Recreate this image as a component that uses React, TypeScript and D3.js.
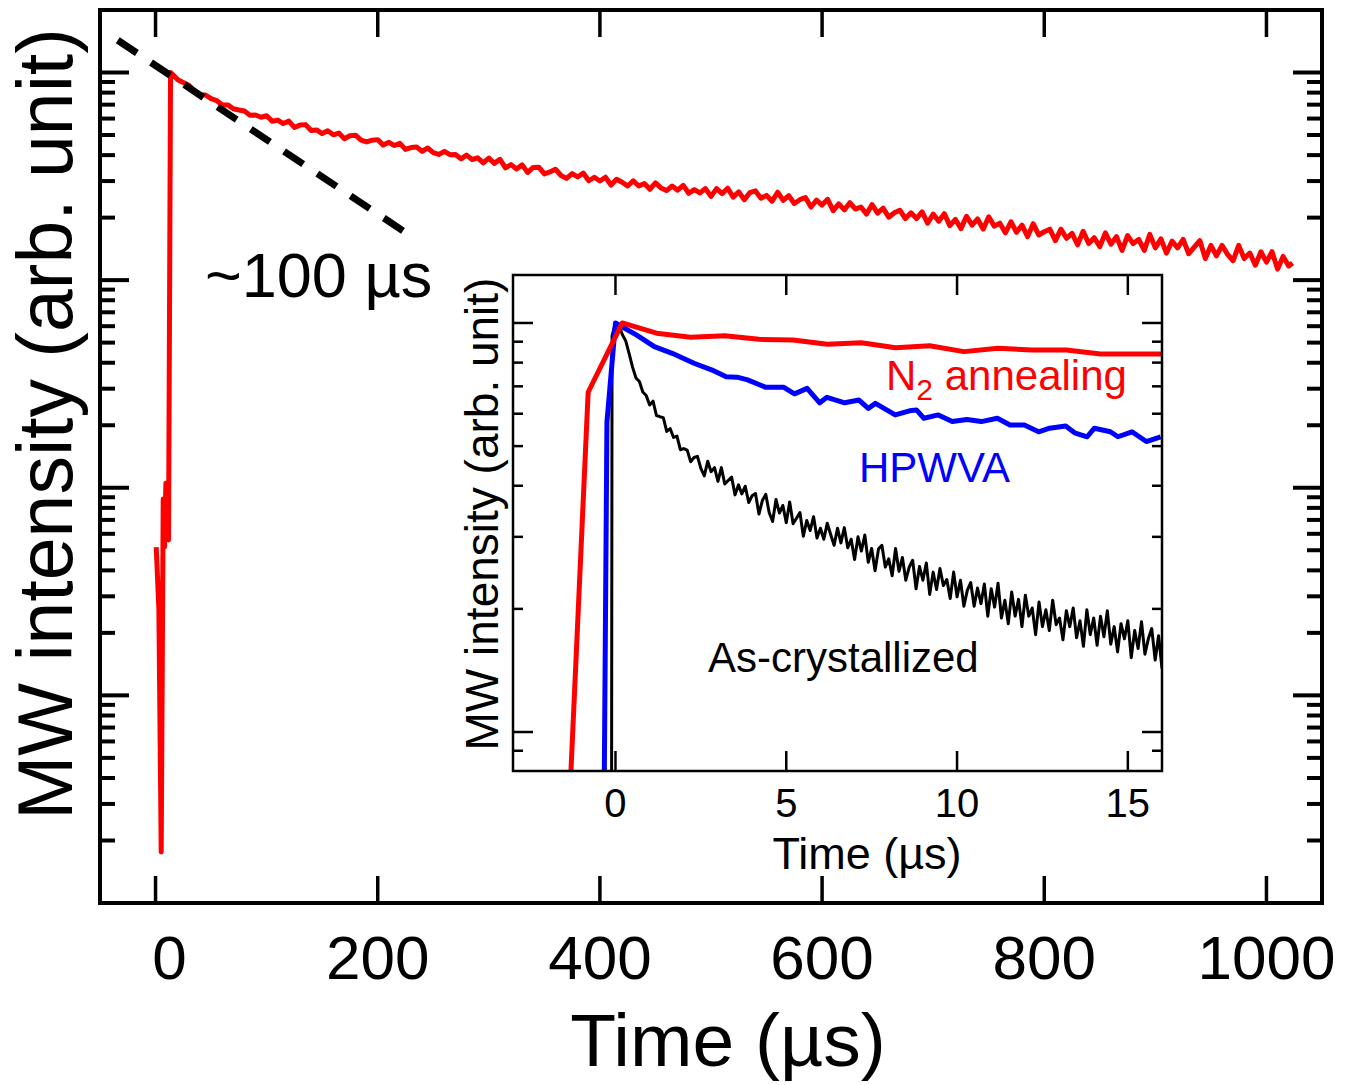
import React from 'react';
import * as d3 from 'd3';

// ---- main trace (N2 annealed sample, long time window) ----
const mainTime = [
  0.6, 3, 5.1, 6.9, 8.1, 9.3, 11.1, 11.7, 13.5,
  15, 20, 25, 30, 35, 40, 45, 50, 55, 60,
  65, 70, 75, 80, 85, 90, 95, 100, 105, 110,
  115, 120, 125, 130, 135, 140, 145, 150, 155, 160,
  165, 170, 175, 180, 185, 190, 195, 200, 205, 210,
  215, 220, 225, 230, 235, 240, 245, 250, 255, 260,
  265, 270, 275, 280, 285, 290, 295, 300, 305, 310,
  315, 320, 325, 330, 335, 340, 345, 350, 355, 360,
  365, 370, 375, 380, 385, 390, 395, 400, 405, 410,
  415, 420, 425, 430, 435, 440, 445, 450, 455, 460,
  465, 470, 475, 480, 485, 490, 495, 500, 505, 510,
  515, 520, 525, 530, 535, 540, 545, 550, 555, 560,
  565, 570, 575, 580, 585, 590, 595, 600, 605, 610,
  615, 620, 625, 630, 635, 640, 645, 650, 655, 660,
  665, 670, 675, 680, 685, 690, 695, 700, 705, 710,
  715, 720, 725, 730, 735, 740, 745, 750, 755, 760,
  765, 770, 775, 780, 785, 790, 795, 800, 805, 810,
  815, 820, 825, 830, 835, 840, 845, 850, 855, 860,
  865, 870, 875, 880, 885, 890, 895, 900, 905, 910,
  915, 920, 925, 930, 935, 940, 945, 950, 955, 960,
  965, 970, 975, 980, 985, 990, 995, 1000, 1005, 1010,
  1015, 1020, 1023.5,
];
const mainSignal = [
  0.00518, 0.0026, 0.000176, 0.00883, 0.00518, 0.0105, 0.0104, 0.0056, 1.0,
  0.985, 0.922, 0.894, 0.868, 0.815, 0.781, 0.779, 0.748, 0.733, 0.697,
  0.698, 0.669, 0.66, 0.652, 0.623, 0.624, 0.609, 0.619, 0.582, 0.59,
  0.568, 0.583, 0.544, 0.558, 0.561, 0.526, 0.529, 0.508, 0.524, 0.501,
  0.511, 0.48, 0.496, 0.499, 0.472, 0.463, 0.472, 0.475, 0.447, 0.461,
  0.445, 0.456, 0.426, 0.435, 0.438, 0.417, 0.433, 0.411, 0.403, 0.417,
  0.402, 0.403, 0.384, 0.4, 0.381, 0.388, 0.367, 0.387, 0.365, 0.382,
  0.347, 0.36, 0.343, 0.359, 0.33, 0.349, 0.35, 0.325, 0.332, 0.342,
  0.319, 0.309, 0.326, 0.314, 0.328, 0.301, 0.313, 0.3, 0.313, 0.287,
  0.306, 0.296, 0.284, 0.301, 0.284, 0.292, 0.274, 0.294, 0.278, 0.27,
  0.284, 0.271, 0.286, 0.262, 0.273, 0.263, 0.276, 0.253, 0.276, 0.261,
  0.277, 0.251, 0.266, 0.244, 0.264, 0.269, 0.248, 0.256, 0.24, 0.265,
  0.242, 0.255, 0.234, 0.244, 0.25, 0.225, 0.243, 0.23, 0.245, 0.216,
  0.233, 0.218, 0.236, 0.22, 0.225, 0.208, 0.231, 0.21, 0.222, 0.201,
  0.211, 0.217, 0.198, 0.211, 0.198, 0.213, 0.188, 0.208, 0.192, 0.209,
  0.183, 0.196, 0.177, 0.203, 0.184, 0.197, 0.176, 0.202, 0.182, 0.188,
  0.169, 0.191, 0.17, 0.184, 0.162, 0.187, 0.165, 0.171, 0.176, 0.155,
  0.176, 0.159, 0.168, 0.148, 0.172, 0.15, 0.16, 0.145, 0.169, 0.149,
  0.162, 0.139, 0.164, 0.15, 0.157, 0.139, 0.166, 0.143, 0.158, 0.135,
  0.154, 0.143, 0.157, 0.134, 0.144, 0.155, 0.127, 0.147, 0.131, 0.147,
  0.133, 0.124, 0.147, 0.127, 0.135, 0.118, 0.137, 0.122, 0.137, 0.113,
  0.13, 0.117, 0.121,
];

// single-exponential guide (~100 us)
const fitTime = [-34, 224];
const fitSignal = [1.43, 0.171];

const mainXTicks = [0, 200, 400, 600, 800, 1000];

// ---- inset: three samples, short window ----
const n2Time = [-1.8, -0.8, 0.2, 1.2, 2.2, 3.2, 4.2, 5.2, 6.2, 7.2, 8.2, 9.2, 10.2, 11.2, 12.2, 13.2, 14.2, 15.2, 16.2];
const n2Signal = [0.0098, 0.677, 1.0, 0.944, 0.923, 0.931, 0.912, 0.909, 0.887, 0.895, 0.87, 0.88, 0.851, 0.867, 0.859, 0.859, 0.84, 0.84, 0.84];

const hpwvaTime = [
  -0.45, -0.25, 0, 0.61, 1.14, 1.66, 2.3, 2.83, 3.24, 3.56, 3.87, 4.4, 4.93, 5.24, 5.61,
  5.98, 6.19, 6.71, 7.13, 7.4, 7.61, 8.19, 8.61, 8.81, 9.03, 9.45, 9.86, 10.29, 10.71,
  11.18, 11.55, 11.97, 12.39, 12.71, 13.18, 13.44, 13.81, 14.02, 14.49, 14.71, 15.12, 15.54, 15.96,
];
const hpwvaSignal = [
  0.0032, 0.572, 1.0, 0.935, 0.875, 0.843, 0.797, 0.767, 0.739, 0.737, 0.726, 0.696, 0.696, 0.671, 0.692,
  0.638, 0.658, 0.638, 0.648, 0.618, 0.636, 0.596, 0.61, 0.613, 0.585, 0.596, 0.574, 0.581, 0.574,
  0.585, 0.563, 0.563, 0.542, 0.553, 0.56, 0.539, 0.527, 0.553, 0.542, 0.527, 0.542, 0.513, 0.527,
];

const asCrysTime = [
  -0.15, -0.1, 0,
  0.1, 0.2, 0.3, 0.4, 0.5, 0.6, 0.7, 0.8, 0.9, 1.0,
  1.1, 1.2, 1.3, 1.4, 1.5, 1.6, 1.7, 1.8, 1.9, 2.0,
  2.1, 2.2, 2.3, 2.4, 2.5, 2.6, 2.7, 2.8, 2.9, 3.0,
  3.1, 3.2, 3.3, 3.4, 3.5, 3.6, 3.7, 3.8, 3.9, 4.0,
  4.1, 4.2, 4.3, 4.4, 4.5, 4.6, 4.7, 4.8, 4.9, 5.0,
  5.1, 5.2, 5.3, 5.4, 5.5, 5.6, 5.7, 5.8, 5.9, 6.0,
  6.1, 6.2, 6.3, 6.4, 6.5, 6.6, 6.7, 6.8, 6.9, 7.0,
  7.1, 7.2, 7.3, 7.4, 7.5, 7.6, 7.7, 7.8, 7.9, 8.0,
  8.1, 8.2, 8.3, 8.4, 8.5, 8.6, 8.7, 8.8, 8.9, 9.0,
  9.1, 9.2, 9.3, 9.4, 9.5, 9.6, 9.7, 9.8, 9.9, 10.0,
  10.1, 10.2, 10.3, 10.4, 10.5, 10.6, 10.7, 10.8, 10.9, 11.0,
  11.1, 11.2, 11.3, 11.4, 11.5, 11.6, 11.7, 11.8, 11.9, 12.0,
  12.1, 12.2, 12.3, 12.4, 12.5, 12.6, 12.7, 12.8, 12.9, 13.0,
  13.1, 13.2, 13.3, 13.4, 13.5, 13.6, 13.7, 13.8, 13.9, 14.0,
  14.1, 14.2, 14.3, 14.4, 14.5, 14.6, 14.7, 14.8, 14.9, 15.0,
  15.1, 15.2, 15.3, 15.4, 15.5, 15.6, 15.7, 15.8, 15.9, 16.0,
];
const asCrysSignal = [
  0.0001, 0.93, 1.0,
  0.988, 0.937, 0.904, 0.842, 0.78, 0.734, 0.719, 0.678, 0.665, 0.63,
  0.644, 0.594, 0.59, 0.587, 0.543, 0.552, 0.525, 0.529, 0.49, 0.493,
  0.489, 0.458, 0.469, 0.472, 0.441, 0.423, 0.459, 0.433, 0.443, 0.41,
  0.443, 0.404, 0.412, 0.42, 0.38, 0.402, 0.382, 0.399, 0.364, 0.378,
  0.383, 0.341, 0.368, 0.381, 0.344, 0.327, 0.37, 0.343, 0.358, 0.325,
  0.365, 0.323, 0.333, 0.344, 0.301, 0.329, 0.311, 0.336, 0.298, 0.315,
  0.296, 0.324, 0.304, 0.286, 0.315, 0.29, 0.316, 0.282, 0.296, 0.264,
  0.3, 0.277, 0.303, 0.26, 0.281, 0.248, 0.28, 0.286, 0.253, 0.265,
  0.241, 0.281, 0.247, 0.267, 0.235, 0.253, 0.263, 0.224, 0.254, 0.235,
  0.259, 0.217, 0.246, 0.223, 0.251, 0.228, 0.236, 0.212, 0.246, 0.214,
  0.235, 0.203, 0.222, 0.232, 0.203, 0.225, 0.206, 0.23, 0.192, 0.224,
  0.202, 0.231, 0.19, 0.21, 0.184, 0.22, 0.192, 0.211, 0.181, 0.216,
  0.192, 0.201, 0.173, 0.208, 0.181, 0.199, 0.177, 0.21, 0.183, 0.19,
  0.168, 0.198, 0.181, 0.201, 0.17, 0.187, 0.162, 0.199, 0.173, 0.19,
  0.163, 0.192, 0.171, 0.198, 0.164, 0.181, 0.157, 0.184, 0.169, 0.187,
  0.152, 0.177, 0.16, 0.186, 0.155, 0.169, 0.179, 0.15, 0.172, 0.143,
];

const insetXTicks = [0, 5, 10, 15];

const FONT = "'Liberation Sans', Arial, Helvetica, sans-serif";

const isDecade = (v: number) => Math.abs(Math.log10(v) - Math.round(Math.log10(v))) < 1e-6;

export default function App() {
  // main axes
  const x = d3.scaleLinear().domain([-50, 1050]).range([100, 1322]);
  const y = d3.scaleLog().domain([1e-4, 2]).range([903, 10]);
  // inset axes
  const ix = d3.scaleLinear().domain([-3, 16]).range([513, 1162]);
  const iy = d3.scaleLog().domain([0.0803, 1.31]).range([771, 275]);

  const mainLine = d3.line<[number, number]>().x((d) => x(d[0])).y((d) => y(d[1]));
  const insetLine = d3.line<[number, number]>().x((d) => ix(d[0])).y((d) => iy(d[1]));

  const [x0, x1] = x.range();
  const [yb, yt] = y.range();
  const [ix0, ix1] = ix.range();
  const [iyb, iyt] = iy.range();

  const yTicks = y.ticks().filter((t) => t > 1.0001e-4 && t < 1.999);
  const iyTicks = iy.ticks().filter((t) => t > 0.0804 && t < 1.3);

  return (
    <svg
      width={1354}
      height={1085}
      style={{ position: 'absolute', left: 0, top: 0, background: '#fff' }}
      fontFamily={FONT}
    >
      <rect x={0} y={0} width={1354} height={1085} fill="#fff" />

      {/* main frame */}
      <rect x={x0} y={yt} width={x1 - x0} height={yb - yt} fill="none" stroke="#000" strokeWidth={4} />

      {/* main x ticks, bottom and top */}
      {mainXTicks.map((v) => (
        <g key={'mx' + v}>
          <line x1={x(v)} x2={x(v)} y1={yb} y2={yb - 27} stroke="#000" strokeWidth={3.5} />
          <line x1={x(v)} x2={x(v)} y1={yt} y2={yt + 27} stroke="#000" strokeWidth={3.5} />
          <text x={x(v)} dx={v === 0 ? 14 : 0} y={979} fontSize={62} textAnchor="middle">{v}</text>
        </g>
      ))}

      {/* main y ticks, left and right */}
      {yTicks.map((t, i) => {
        const len = isDecade(t) ? 29 : 15;
        return (
          <g key={'my' + i}>
            <line x1={x0} x2={x0 + len} y1={y(t)} y2={y(t)} stroke="#000" strokeWidth={4} />
            <line x1={x1} x2={x1 - len} y1={y(t)} y2={y(t)} stroke="#000" strokeWidth={4} />
          </g>
        );
      })}

      <text x={728} y={1066} fontSize={75} textAnchor="middle">Time (µs)</text>
      <text transform="translate(72,424) rotate(-90)" fontSize={77} textAnchor="middle">
        MW intensity (arb. unit)
      </text>

      {/* main decay */}
      <path
        d={mainLine(d3.zip(mainTime, mainSignal) as [number, number][]) || ''}
        fill="none"
        stroke="#ff0000"
        strokeWidth={5}
        strokeLinejoin="round"
      />

      {/* exponential guide */}
      <path
        d={mainLine(d3.zip(fitTime, fitSignal) as [number, number][]) || ''}
        fill="none"
        stroke="#000"
        strokeWidth={7}
        strokeDasharray="23,17"
      />
      <text x={205} y={297} fontSize={63}>~100 µs</text>

      {/* inset */}
      <defs>
        <clipPath id="insetClip">
          <rect x={ix0} y={iyt} width={ix1 - ix0} height={iyb - iyt} />
        </clipPath>
      </defs>
      <rect x={ix0} y={iyt} width={ix1 - ix0} height={iyb - iyt} fill="#fff" />

      <g clipPath="url(#insetClip)">
        <path
          d={insetLine(d3.zip(asCrysTime, asCrysSignal) as [number, number][]) || ''}
          fill="none"
          stroke="#000"
          strokeWidth={3}
          strokeLinejoin="round"
        />
        <path
          d={insetLine(d3.zip(hpwvaTime, hpwvaSignal) as [number, number][]) || ''}
          fill="none"
          stroke="#0000ff"
          strokeWidth={5}
          strokeLinejoin="round"
        />
        <path
          d={insetLine(d3.zip(n2Time, n2Signal) as [number, number][]) || ''}
          fill="none"
          stroke="#ff0000"
          strokeWidth={5}
          strokeLinejoin="round"
        />
      </g>

      <rect x={ix0} y={iyt} width={ix1 - ix0} height={iyb - iyt} fill="none" stroke="#000" strokeWidth={2.5} />

      {insetXTicks.map((v) => (
        <g key={'ix' + v}>
          <line x1={ix(v)} x2={ix(v)} y1={iyb} y2={iyb - 20} stroke="#000" strokeWidth={2.5} />
          <line x1={ix(v)} x2={ix(v)} y1={iyt} y2={iyt + 20} stroke="#000" strokeWidth={2.5} />
          <text x={ix(v)} y={817} fontSize={40} textAnchor="middle">{v}</text>
        </g>
      ))}

      {iyTicks.map((t, i) => {
        const len = isDecade(t) ? 20 : 10;
        return (
          <g key={'iy' + i}>
            <line x1={ix0} x2={ix0 + len} y1={iy(t)} y2={iy(t)} stroke="#000" strokeWidth={2.5} />
            <line x1={ix1} x2={ix1 - len} y1={iy(t)} y2={iy(t)} stroke="#000" strokeWidth={2.5} />
          </g>
        );
      })}

      <text x={867} y={869} fontSize={45} textAnchor="middle">Time (µs)</text>
      <text transform="translate(498,514) rotate(-90)" fontSize={46} textAnchor="middle">
        MW intensity (arb. unit)
      </text>

      <text x={886} y={390} fontSize={42} fill="#ff0000">
        N<tspan fontSize={30} dy={10}>2</tspan>
        <tspan dy={-10}> annealing</tspan>
      </text>
      <text x={859} y={482} fontSize={42} fill="#0000ff">HPWVA</text>
      <text x={708} y={672} fontSize={42} fill="#000">As-crystallized</text>
    </svg>
  );
}
